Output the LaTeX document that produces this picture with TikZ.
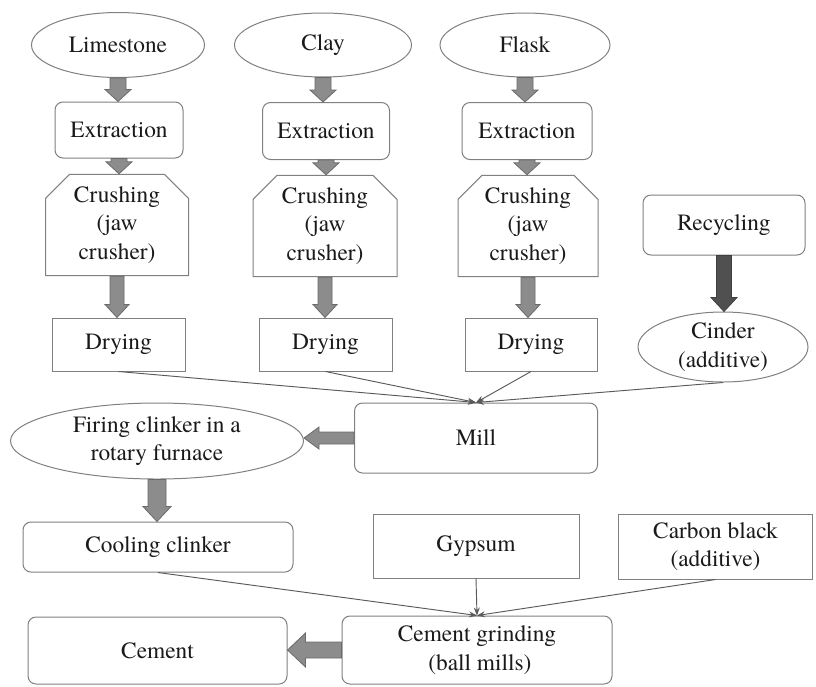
\documentclass[tikz,border=0pt]{standalone}
\usepackage{fontspec}
\setmainfont{TeX Gyre Termes}
\newfontfamily\tnr{TeX Gyre Termes}
\usetikzlibrary{shapes.geometric,shapes.misc,arrows.meta,calc}
\newdimen\PX \PX=0.75pt
\definecolor{bord}{HTML}{808080}
\definecolor{afill}{HTML}{8C8C8C}
\definecolor{aline}{HTML}{6A6A6A}
\definecolor{dfill}{HTML}{505050}
\definecolor{txt}{HTML}{1A1A1A}
\definecolor{thin}{HTML}{5A5A5A}
\tikzset{
 base/.style={draw=bord, line width=1\PX, text=txt, font=\tnr\fontsize{17.5}{21.5}\selectfont, align=center, inner sep=0pt},
 oval/.style={base, ellipse},
 rbox/.style={base, rectangle, rounded corners=8\PX},
 sbox/.style={base, rectangle},
 cbox/.style={base, chamfered rectangle, chamfered rectangle corners={north west,north east}, chamfered rectangle xsep=12\PX, chamfered rectangle ysep=12\PX},
 sz/.style 2 args={minimum width=#1\PX, minimum height=#2\PX},
 blk/.style={fill=afill, draw=aline, line width=0.8\PX},
 dblk/.style={fill=dfill, draw=dfill!80!black, line width=0.8\PX},
 thinarr/.style={draw=thin, line width=0.7pt, -{Stealth[length=6pt, width=4.5pt]}},
}
\newcommand\ArrDown[6][blk]{\path[#1] let \p1=(#2.south), \p2=(#3.north) in
 (\x1-#4*0.75pt,\y1) -- (\x1+#4*0.75pt,\y1) -- (\x1+#4*0.75pt,\y2+#6*0.75pt) -- (\x1+#5*0.75pt,\y2+#6*0.75pt) -- (\x1,\y2) -- (\x1-#5*0.75pt,\y2+#6*0.75pt) -- (\x1-#4*0.75pt,\y2+#6*0.75pt) -- cycle;}
\newcommand\ArrLeft[6][blk]{\path[#1] let \p1=(#2.west), \p2=(#3.east) in
 (\x1,\y1+#4*0.75pt) -- (\x1,\y1-#4*0.75pt) -- (\x2+#6*0.75pt,\y1-#4*0.75pt) -- (\x2+#6*0.75pt,\y1-#5*0.75pt) -- (\x2,\y1) -- (\x2+#6*0.75pt,\y1+#5*0.75pt) -- (\x2+#6*0.75pt,\y1+#4*0.75pt) -- cycle;}
\begin{document}
\begin{tikzpicture}[x=0.75pt,y=-0.75pt]
\useasboundingbox[fill=white] (0,0) rectangle (816,686);
% sources
\node[oval, sz={173}{65}] (lime) at (118,45) {Limestone};
\node[oval, sz={177}{64}] (clay) at (323,45) {Clay};
\node[oval, sz={170}{64}] (flask) at (525,45) {Flask};
% extraction
\node[rbox, sz={128}{56}] (ext1) at (119,130) {Extraction};
\node[rbox, sz={127}{57}] (ext2) at (326,131) {Extraction};
\node[rbox, sz={130}{57}] (ext3) at (527,131) {Extraction};
% crushing
\node[cbox, sz={143}{93}] (cr1) at (117,225) {Crushing\\(jaw\\crusher)};
\node[cbox, sz={144}{92}] (cr2) at (325,226) {Crushing\\(jaw\\crusher)};
\node[cbox, sz={140}{92}] (cr3) at (528,226) {Crushing\\(jaw\\crusher)};
% drying
\node[sbox, sz={133}{53}] (dry1) at (118.5,344.5) {Drying};
\node[sbox, sz={133}{53}] (dry2) at (325.5,344.5) {Drying};
\node[sbox, sz={132}{53}] (dry3) at (531,344.5) {Drying};
% recycling
\node[rbox, sz={162}{60}] (recyc) at (724,225) {Recycling};
\node[oval, sz={170}{70}] (cinder) at (723,347) {Cinder\\(additive)};
% mill, firing
\node[rbox, sz={243}{70}] (mill) at (476,438) {Mill};
\node[oval, sz={293}{76}] (fire) at (157,441) {Firing clinker in a\\rotary furnace};
% lower row
\node[rbox, sz={270}{50}] (cool) at (158,547) {Cooling clinker};
\node[sbox, sz={206}{64}] (gyp) at (476,546) {Gypsum};
\node[sbox, sz={194}{65}] (carb) at (715.5,546.5) {Carbon black\\(additive)};
\node[rbox, sz={270}{68}] (grind) at (477,650) {Cement grinding\\\ (ball mills)};
\node[rbox, sz={259}{67}] (cement) at (157.5,650.5) {Cement};
% block arrows
\ArrDown{lime}{ext1}{8}{13}{12}
\ArrDown{clay}{ext2}{8}{13}{12}
\ArrDown{flask}{ext3}{8}{13}{12}
\ArrDown{ext1}{cr1}{8}{13}{12}
\ArrDown{ext2}{cr2}{8}{13}{12}
\ArrDown{ext3}{cr3}{8}{13}{12}
\ArrDown{cr1}{dry1}{7}{12}{13}
\ArrDown{cr2}{dry2}{7}{12}{13}
\ArrDown{cr3}{dry3}{7}{12}{13}
\ArrDown[dblk]{recyc}{cinder}{7.5}{13}{14}
\ArrLeft{mill}{fire}{6}{11}{15}
\ArrDown{fire}{cool}{9}{14}{15}
\ArrLeft{grind}{cement}{8}{17}{18}
% thin connectors
\draw[thinarr] (dry1.south) -- (mill.north);
\draw[thinarr] (dry2.south) -- (mill.north);
\draw[thinarr] (dry3.south) -- (mill.north);
\draw[thinarr] (cinder.south) -- (mill.north);
\draw[thinarr] (cool.south) -- (grind.north);
\draw[thinarr] (gyp.south) -- (grind.north);
\draw[thinarr] (carb.south) -- (grind.north);
\end{tikzpicture}
\end{document}
